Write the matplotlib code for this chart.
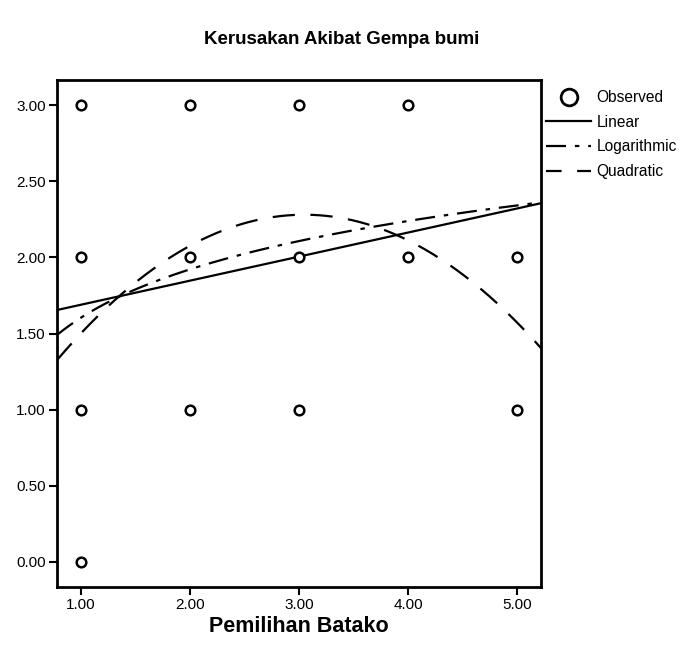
import numpy as np
import matplotlib
matplotlib.use("Agg")
import matplotlib.pyplot as plt
from matplotlib.lines import Line2D

plt.rcParams['font.family'] = ['Liberation Sans', 'DejaVu Sans']

# Observed responses
obs_x = [1, 2, 3, 4, 1, 2, 3, 4, 5, 1, 2, 3, 5, 1]
obs_y = [3, 3, 3, 3, 2, 2, 2, 2, 2, 1, 1, 1, 1, 0]

# Fitted model coefficients
linear_coef = [1.531, 0.158]            # b0 + b1*x
log_coef = [1.604, 0.458]               # b0 + b1*ln(x)
quad_coef = [0.555, 1.132, -0.1857]     # b0 + b1*x + b2*x^2

x_ticks = [1.0, 2.0, 3.0, 4.0, 5.0]
y_ticks = [0.0, 0.5, 1.0, 1.5, 2.0, 2.5, 3.0]
xlim = (0.78, 5.22)
ylim = (-0.165, 3.165)

fig = plt.figure(figsize=(6.84, 6.46), dpi=100)
ax = fig.add_axes([57/684, 59/646, (541-57)/684, (587-80)/646])

xs = np.linspace(xlim[0], xlim[1], 300)
lin = linear_coef[0] + linear_coef[1]*xs
lg = log_coef[0] + log_coef[1]*np.log(xs)
qd = quad_coef[0] + quad_coef[1]*xs + quad_coef[2]*xs**2

ax.plot(xs, lin, color='black', lw=1.6, solid_capstyle='butt')
ax.plot(xs, lg, color='black', lw=1.6, dashes=(9, 4, 2, 4))
ax.plot(xs, qd, color='black', lw=1.6, dashes=(10, 7))
ax.scatter(obs_x, obs_y, s=48, facecolors='white', edgecolors='black',
           linewidths=1.8, zorder=5)

ax.set_xlim(*xlim)
ax.set_ylim(*ylim)
ax.set_xticks(x_ticks)
ax.set_yticks(y_ticks)
ax.set_xticklabels([f"{v:.2f}" for v in x_ticks])
ax.set_yticklabels([f"{v:.2f}" for v in y_ticks])
ax.tick_params(direction='out', length=6, width=1.5, labelsize=11, pad=2)
for sp in ax.spines.values():
    sp.set_linewidth(2)

ax.set_xlabel("Pemilihan Batako", fontsize=15.5, fontweight='bold', labelpad=3)
fig.suptitle("Kerusakan Akibat Gempa bumi", fontsize=13.5, fontweight='bold',
             x=0.5, y=0.952)

handles = [
    Line2D([], [], marker='o', ls='none', markersize=12, markerfacecolor='white',
           markeredgecolor='black', markeredgewidth=2),
    Line2D([], [], color='black', lw=1.6),
    Line2D([], [], color='black', lw=1.6, dashes=(9, 4, 2, 4)),
    Line2D([], [], color='black', lw=1.6, dashes=(7, 7)),
]
fig.legend(handles, ["Observed", "Linear", "Logarithmic", "Quadratic"],
           loc='upper left', bbox_to_anchor=(543/684, 1 - 87/646),
           frameon=False, fontsize=11.2, handlelength=2.9, handletextpad=0.35,
           labelspacing=0.62, borderaxespad=0, borderpad=0.2)

fig.savefig("out.png", dpi=100)
